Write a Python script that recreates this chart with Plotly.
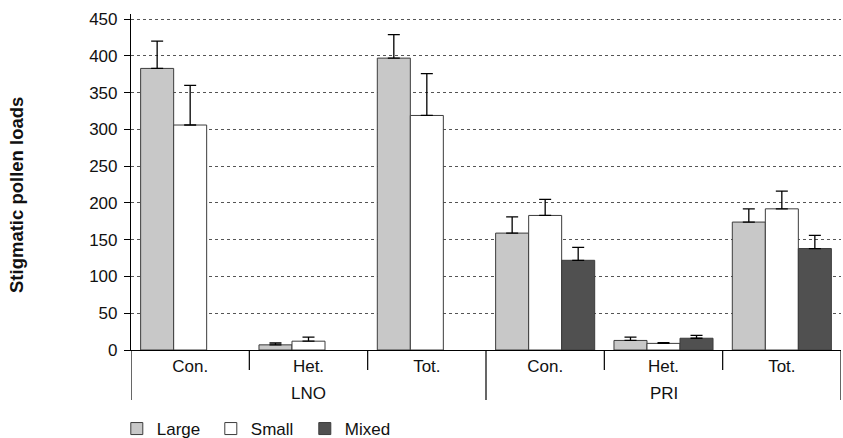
import plotly.graph_objects as go

# Stigmatic pollen loads by pollination treatment, split by site
sites = ["LNO", "PRI"]
treatments = ["Con.", "Het.", "Tot.", "Con.", "Het.", "Tot."]

large = [383, 7, 397, 159, 13, 174]
large_err = [37, 2.5, 32, 22, 4.5, 18]
small = [306, 12, 319, 183, 9, 192]
small_err = [54, 5.5, 57, 22, 1, 24]
mixed = [None, None, None, 122, 16, 138]
mixed_err = [0, 0, 0, 17.5, 4, 18]

y_ticks = [0, 50, 100, 150, 200, 250, 300, 350, 400, 450]
y_title = "Stigmatic pollen loads"

x_pos = list(range(len(treatments)))
outline = dict(color="#3c3c3c", width=1)
err_style = dict(type="data", symmetric=False, color="#000000", thickness=1.3, width=6)

series = [
    ("Large", large, large_err, "#c8c8c8"),
    ("Small", small, small_err, "#ffffff"),
    ("Mixed", mixed, mixed_err, "#505050"),
]

fig = go.Figure()
for name, vals, errs, color in series:
    fig.add_trace(go.Bar(
        name=name,
        x=x_pos,
        y=vals,
        marker=dict(color=color, line=outline),
        error_y=dict(array=errs, arrayminus=[0] * len(errs), **err_style),
    ))

base_family = "Liberation Sans, Arial, sans-serif"
label_font = dict(family=base_family, size=17, color="#111111")

# plot area: 131..841 px across (710 px), 14..350 px down (336 px)
plot_w = 710.0
plot_h = 336.0

def below(px):
    return -px / plot_h

# Divider lines under the category axis: short ones between treatments,
# long ones between sites and at both ends
shapes = []
for xv in [0.5, 1.5, 3.5, 4.5]:
    shapes.append(dict(type="line", xref="x", yref="paper", x0=xv, x1=xv,
                       y0=0, y1=below(20), line=dict(color="#000000", width=1.2)))
for xv in [-0.5, 2.5, 5.5]:
    shapes.append(dict(type="line", xref="x", yref="paper", x0=xv, x1=xv,
                       y0=0, y1=below(50), line=dict(color="#000000", width=1.2)))

annotations = []
for i, site in enumerate(sites):
    annotations.append(dict(text=site, xref="x", yref="paper", x=1 + 3 * i, y=below(43),
                            showarrow=False, font=label_font, yanchor="middle"))

# rotated axis title, left of the tick labels
annotations.append(dict(
    text="<b>" + y_title + "</b>",
    xref="paper", yref="paper",
    x=-115 / plot_w, y=155 / plot_h,
    xanchor="center", yanchor="middle",
    textangle=-90, showarrow=False,
    font=dict(family=base_family, size=18.5, color="#111111"),
))

fig.update_layout(
    width=843,
    height=438,
    margin=dict(l=131, r=2, t=14, b=88, autoexpand=False),
    paper_bgcolor="#ffffff",
    plot_bgcolor="#ffffff",
    barmode="group",
    bargap=0.163,
    bargroupgap=0,
    shapes=shapes,
    annotations=annotations,
    showlegend=True,
    legend=dict(
        orientation="h",
        x=-0.02,
        y=below(61),
        xanchor="left",
        yanchor="top",
        entrywidth=49,
        entrywidthmode="pixels",
        font=label_font,
        traceorder="normal",
    ),
    xaxis=dict(
        range=[-0.5, 5.5],
        tickvals=x_pos,
        ticktext=treatments,
        tickfont=label_font,
        showgrid=False,
        zeroline=False,
        showline=True,
        linecolor="#000000",
        linewidth=1.2,
        ticks="",
    ),
    yaxis=dict(
        range=[0, 457],
        tickvals=y_ticks,
        tickfont=dict(family=base_family, size=17, color="#111111"),
        ticklabelstandoff=3,
        showgrid=True,
        gridcolor="#555555",
        griddash="dot",
        gridwidth=1,
        zeroline=False,
        showline=True,
        linecolor="#000000",
        linewidth=1.2,
        ticks="outside",
        ticklen=6,
        tickcolor="#000000",
    ),
)

fig.write_html("out.html")
